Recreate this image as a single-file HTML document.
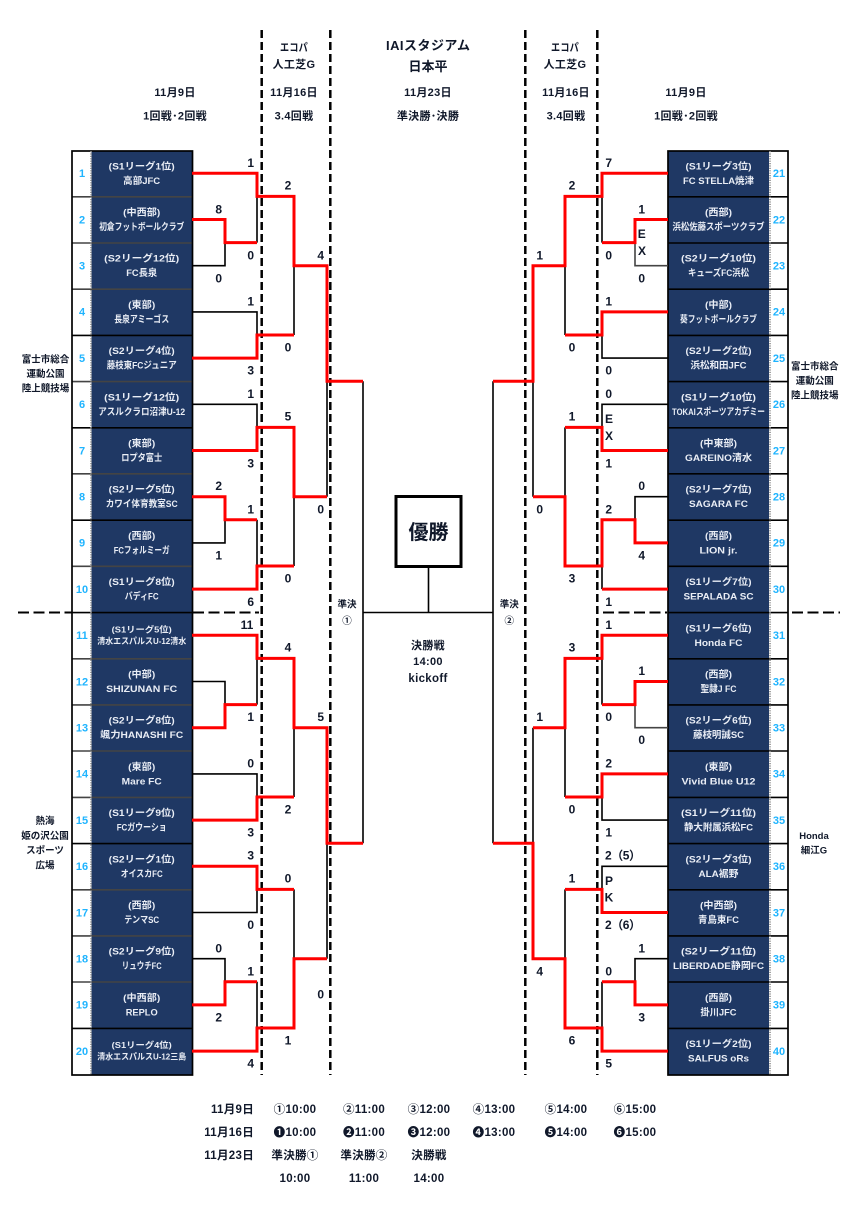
<!DOCTYPE html>
<html lang="ja"><head><meta charset="utf-8"><title>Bracket</title>
<style>
html,body{margin:0;padding:0;background:#fff}
svg{display:block}
text{font-family:"Liberation Sans","Noto Sans CJK JP",sans-serif;font-weight:700;text-anchor:middle;fill:#10182a}
.t text{fill:#e9edf5;font-size:9.5px}
.t2 text{fill:#e9edf5;font-size:8.5px}
.n text{fill:#1fb4ff;font-size:11px}
.s text{font-size:12px}
.h text{font-size:11px;letter-spacing:.3px}
.l text{font-size:9.5px}
.b text{font-size:11.5px;letter-spacing:.3px}
</style></head><body>
<svg xmlns="http://www.w3.org/2000/svg" width="864" height="1209" viewBox="0 0 864 1209">
<rect width="864" height="1209" fill="#fff"/>
<!-- navy -->
<rect x="91.5" y="151" width="101" height="924" fill="#1f3864"/>
<rect x="668" y="151" width="101" height="924" fill="#1f3864"/>
<!-- row lines left -->
<g stroke="#444" stroke-width="1.6" fill="none">
<path d="M72 196.8H192M72 243H192M72 289.2H192M72 381.6H192M72 473.8H192M72 566.3H192M72 658.8H192M72 704.9H192M72 751H192M72 797.4H192M72 889.8H192M72 935.9H192M72 982H192"/>
</g>
<g stroke="#000" stroke-width="1.6" fill="none">
<path d="M72 335.4H192M72 427.8H192M72 520.2H192M72 612.6H192M72 843.6H192M72 1028.4H192"/>
<path d="M668 196.8H788M668 243H788M668 289.2H788M668 335.4H788M668 381.6H788M668 427.8H788M668 473.8H788M668 520.2H788M668 566.3H788M668 612.6H788M668 658.8H788M668 704.9H788M668 751H788M668 797.4H788M668 843.6H788M668 889.8H788M668 935.9H788M668 982H788M668 1028.4H788"/>
</g>
<g stroke="#000" stroke-width="1.7" fill="none">
<rect x="72" y="151" width="120.5" height="924"/>
<rect x="668" y="151" width="120" height="924"/>
</g>
<path d="M91 151V1075M770 151V1075" stroke="#8a8a8a" stroke-width="1.6" stroke-dasharray="1.2 1.2" fill="none"/>
<!-- black connectors -->
<g stroke="#000" stroke-width="1.6" fill="none">
<path d="M257 196.4V242.6M192 265.7H225V242.6M192 311.9H257V335M294 265.7V335M192 404.3H257V427.4M327 381.2V496.7M192 542.9H225V519.8M257 519.8V566M294 496.7V566M192 681.5H225V704.6M257 658.4V704.6M192 773.9H257V797M294 727.7V797M192 912.5H257V889.4M294 889.4V958.7M327 843.2V958.7M192 958.7H225V981.8M257 981.8V1028"/>
<path d="M363 381.2V843.2M363 612.5H493M428.5 566V612.5M493 381.2V843.2"/>
<path d="M602 196.4V242.6M565 265.7V335M602 335V358.1H668M668 404.3H602V427.4M533 381.2V496.7M565 427.4V496.7M668 496.7H635V519.8M602 566V589.1M602 658.4V704.6M533 727.7V843.2M565 727.7V797M602 797V820.1H668M668 866.3H602V889.4M565 889.4V958.7M668 958.7H635V981.8M602 981.8V1028"/>
</g>
<path d="M668 265.7H635V242.6M668 727.7H635V704.6" stroke="#444" stroke-width="1.6" fill="none"/>
<!-- dashed -->
<g stroke="#000" fill="none">
<path d="M261.7 30V1075M330.3 30V1075M525.3 30V1075M597.3 30V1075" stroke-width="2.5" stroke-dasharray="8 4"/>
<path d="M18 612.5H72M193 612.5H259M603 612.5H667M792 612.5H840" stroke-width="2" stroke-dasharray="11 4.5"/>
</g>
<!-- red connectors -->
<g stroke="#f00" stroke-width="3" fill="none" stroke-linejoin="miter">
<path d="M192 173.3H257V196.4H294V265.7H327V381.2H363"/>
<path d="M192 219.5H225V242.6H257"/>
<path d="M192 358.1H257V335H294"/>
<path d="M192 450.5H257V427.4H294V496.7H327"/>
<path d="M192 496.7H225V519.8H257"/>
<path d="M192 589.1H257V566H294"/>
<path d="M192 635.3H257V658.4H294V727.7H327V843.2H363"/>
<path d="M192 727.7H225V704.6H257"/>
<path d="M192 820.1H257V797H294"/>
<path d="M192 866.3H257V889.4H294"/>
<path d="M192 1004.9H225V981.8H257"/>
<path d="M192 1051.1H257V1028H294V958.7H327"/>
<path d="M668 173.3H602V196.4H565V265.7H533V381.2H493"/>
<path d="M668 219.5H635V242.6H602"/>
<path d="M668 311.9H602V335H565"/>
<path d="M668 450.5H602V427.4H565"/>
<path d="M668 542.9H635V519.8H602V566H565V496.7H533"/>
<path d="M668 589.1H602"/>
<path d="M668 635.3H602V658.4H565V727.7H533"/>
<path d="M668 681.5H635V704.6H602"/>
<path d="M668 773.9H602V797H565"/>
<path d="M668 912.5H602V889.4H565"/>
<path d="M668 1004.9H635V981.8H602"/>
<path d="M668 1051.1H602V1028H565V958.7H533V843.2H493"/>
</g>
<!-- winner box -->
<rect x="396" y="496.5" width="65" height="70" fill="#fff" stroke="#000" stroke-width="3"/>
<text x="428.5" y="539" style="font-size:20px">優勝</text>

<!-- number columns -->
<g class="n">
<text x="82" y="177">1</text><text x="82" y="223.3">2</text><text x="82" y="269.5">3</text><text x="82" y="315.7">4</text><text x="82" y="361.9">5</text><text x="82" y="408.1">6</text><text x="82" y="454.3">7</text><text x="82" y="500.5">8</text><text x="82" y="546.7">9</text><text x="82" y="592.9">10</text>
<text x="82" y="639.1">11</text><text x="82" y="685.3">12</text><text x="82" y="731.5">13</text><text x="82" y="777.7">14</text><text x="82" y="823.9">15</text><text x="82" y="870.1">16</text><text x="82" y="916.3">17</text><text x="82" y="962.5">18</text><text x="82" y="1008.7">19</text><text x="82" y="1054.9">20</text>
<text x="779" y="177">21</text><text x="779" y="223.3">22</text><text x="779" y="269.5">23</text><text x="779" y="315.7">24</text><text x="779" y="361.9">25</text><text x="779" y="408.1">26</text><text x="779" y="454.3">27</text><text x="779" y="500.5">28</text><text x="779" y="546.7">29</text><text x="779" y="592.9">30</text>
<text x="779" y="639.1">31</text><text x="779" y="685.3">32</text><text x="779" y="731.5">33</text><text x="779" y="777.7">34</text><text x="779" y="823.9">35</text><text x="779" y="870.1">36</text><text x="779" y="916.3">37</text><text x="779" y="962.5">38</text><text x="779" y="1008.7">39</text><text x="779" y="1054.9">40</text>
</g>

<!-- left teams -->
<g class="t">
<text x="141.7" y="169.3" textLength="66" lengthAdjust="spacingAndGlyphs">(S1リーグ1位)</text><text x="141.7" y="183.8" textLength="37" lengthAdjust="spacingAndGlyphs">高部JFC</text>
<text x="141.7" y="215.5" textLength="37" lengthAdjust="spacingAndGlyphs">(中西部)</text><text x="141.7" y="230" textLength="85" lengthAdjust="spacingAndGlyphs">初倉フットボールクラブ</text>
<text x="141.7" y="261.7" textLength="75" lengthAdjust="spacingAndGlyphs">(S2リーグ12位)</text><text x="141.7" y="276.2" textLength="31" lengthAdjust="spacingAndGlyphs">FC長泉</text>
<text x="141.7" y="307.9" textLength="27" lengthAdjust="spacingAndGlyphs">(東部)</text><text x="141.7" y="322.4" textLength="55" lengthAdjust="spacingAndGlyphs">長泉アミーゴス</text>
<text x="141.7" y="354.1" textLength="66" lengthAdjust="spacingAndGlyphs">(S2リーグ4位)</text><text x="141.7" y="368.6" textLength="70" lengthAdjust="spacingAndGlyphs">藤枝東FCジュニア</text>
<text x="141.7" y="400.3" textLength="75" lengthAdjust="spacingAndGlyphs">(S1リーグ12位)</text><text x="141.7" y="414.8" textLength="87" lengthAdjust="spacingAndGlyphs">アスルクラロ沼津U-12</text>
<text x="141.7" y="446.5" textLength="27" lengthAdjust="spacingAndGlyphs">(東部)</text><text x="141.7" y="461" textLength="41" lengthAdjust="spacingAndGlyphs">ロプタ富士</text>
<text x="141.7" y="492.7" textLength="66" lengthAdjust="spacingAndGlyphs">(S2リーグ5位)</text><text x="141.7" y="507.2" textLength="72" lengthAdjust="spacingAndGlyphs">カワイ体育教室SC</text>
<text x="141.7" y="538.9" textLength="27" lengthAdjust="spacingAndGlyphs">(西部)</text><text x="141.7" y="553.4" textLength="56" lengthAdjust="spacingAndGlyphs">FCフォルミーガ</text>
<text x="141.7" y="585.1" textLength="66" lengthAdjust="spacingAndGlyphs">(S1リーグ8位)</text><text x="141.7" y="599.6" textLength="34" lengthAdjust="spacingAndGlyphs">バディFC</text>
<text x="141.7" y="677.5" textLength="27" lengthAdjust="spacingAndGlyphs">(中部)</text><text x="141.7" y="692" textLength="71" lengthAdjust="spacingAndGlyphs">SHIZUNAN FC</text>
<text x="141.7" y="723.7" textLength="66" lengthAdjust="spacingAndGlyphs">(S2リーグ8位)</text><text x="141.7" y="738.2" textLength="83" lengthAdjust="spacingAndGlyphs">颯力HANASHI FC</text>
<text x="141.7" y="769.9" textLength="27" lengthAdjust="spacingAndGlyphs">(東部)</text><text x="141.7" y="784.4" textLength="40" lengthAdjust="spacingAndGlyphs">Mare FC</text>
<text x="141.7" y="816.1" textLength="66" lengthAdjust="spacingAndGlyphs">(S1リーグ9位)</text><text x="141.7" y="830.6" textLength="50" lengthAdjust="spacingAndGlyphs">FCガウーショ</text>
<text x="141.7" y="862.3" textLength="66" lengthAdjust="spacingAndGlyphs">(S2リーグ1位)</text><text x="141.7" y="876.8" textLength="42" lengthAdjust="spacingAndGlyphs">オイスカFC</text>
<text x="141.7" y="908.5" textLength="27" lengthAdjust="spacingAndGlyphs">(西部)</text><text x="141.7" y="923" textLength="35" lengthAdjust="spacingAndGlyphs">テンマSC</text>
<text x="141.7" y="954.7" textLength="66" lengthAdjust="spacingAndGlyphs">(S2リーグ9位)</text><text x="141.7" y="969.2" textLength="40" lengthAdjust="spacingAndGlyphs">リュウチFC</text>
<text x="141.7" y="1000.9" textLength="37" lengthAdjust="spacingAndGlyphs">(中西部)</text><text x="141.7" y="1015.4" textLength="32" lengthAdjust="spacingAndGlyphs">REPLO</text>
</g>
<g class="t2">
<text x="141.7" y="632.3" textLength="60" lengthAdjust="spacingAndGlyphs">(S1リーグ5位)</text><text x="141.7" y="643.8" textLength="89" lengthAdjust="spacingAndGlyphs">清水エスパルスU-12清水</text>
<text x="141.7" y="1048.1" textLength="60" lengthAdjust="spacingAndGlyphs">(S1リーグ4位)</text><text x="141.7" y="1059.6" textLength="89" lengthAdjust="spacingAndGlyphs">清水エスパルスU-12三島</text>
</g>
<!-- right teams -->
<g class="t">
<text x="718.5" y="169.3" textLength="66" lengthAdjust="spacingAndGlyphs">(S1リーグ3位)</text><text x="718.5" y="183.8" textLength="71" lengthAdjust="spacingAndGlyphs">FC STELLA焼津</text>
<text x="718.5" y="215.5" textLength="27" lengthAdjust="spacingAndGlyphs">(西部)</text><text x="718.5" y="230" textLength="92" lengthAdjust="spacingAndGlyphs">浜松佐藤スポーツクラブ</text>
<text x="718.5" y="261.7" textLength="75" lengthAdjust="spacingAndGlyphs">(S2リーグ10位)</text><text x="718.5" y="276.2" textLength="61" lengthAdjust="spacingAndGlyphs">キューズFC浜松</text>
<text x="718.5" y="307.9" textLength="27" lengthAdjust="spacingAndGlyphs">(中部)</text><text x="718.5" y="322.4" textLength="77" lengthAdjust="spacingAndGlyphs">葵フットボールクラブ</text>
<text x="718.5" y="354.1" textLength="66" lengthAdjust="spacingAndGlyphs">(S2リーグ2位)</text><text x="718.5" y="368.6" textLength="56" lengthAdjust="spacingAndGlyphs">浜松和田JFC</text>
<text x="718.5" y="400.3" textLength="75" lengthAdjust="spacingAndGlyphs">(S1リーグ10位)</text><text x="718.5" y="414.8" textLength="93" lengthAdjust="spacingAndGlyphs">TOKAIスポーツアカデミー</text>
<text x="718.5" y="446.5" textLength="37" lengthAdjust="spacingAndGlyphs">(中東部)</text><text x="718.5" y="461" textLength="67" lengthAdjust="spacingAndGlyphs">GAREINO清水</text>
<text x="718.5" y="492.7" textLength="66" lengthAdjust="spacingAndGlyphs">(S2リーグ7位)</text><text x="718.5" y="507.2" textLength="59" lengthAdjust="spacingAndGlyphs">SAGARA FC</text>
<text x="718.5" y="538.9" textLength="27" lengthAdjust="spacingAndGlyphs">(西部)</text><text x="718.5" y="553.4" textLength="38" lengthAdjust="spacingAndGlyphs">LION jr.</text>
<text x="718.5" y="585.1" textLength="66" lengthAdjust="spacingAndGlyphs">(S1リーグ7位)</text><text x="718.5" y="599.6" textLength="70" lengthAdjust="spacingAndGlyphs">SEPALADA SC</text>
<text x="718.5" y="631.3" textLength="66" lengthAdjust="spacingAndGlyphs">(S1リーグ6位)</text><text x="718.5" y="645.8" textLength="48" lengthAdjust="spacingAndGlyphs">Honda FC</text>
<text x="718.5" y="677.5" textLength="27" lengthAdjust="spacingAndGlyphs">(西部)</text><text x="718.5" y="692" textLength="36" lengthAdjust="spacingAndGlyphs">聖隷J FC</text>
<text x="718.5" y="723.7" textLength="66" lengthAdjust="spacingAndGlyphs">(S2リーグ6位)</text><text x="718.5" y="738.2" textLength="51" lengthAdjust="spacingAndGlyphs">藤枝明誠SC</text>
<text x="718.5" y="769.9" textLength="27" lengthAdjust="spacingAndGlyphs">(東部)</text><text x="718.5" y="784.4" textLength="74" lengthAdjust="spacingAndGlyphs">Vivid Blue U12</text>
<text x="718.5" y="816.1" textLength="75" lengthAdjust="spacingAndGlyphs">(S1リーグ11位)</text><text x="718.5" y="830.6" textLength="69" lengthAdjust="spacingAndGlyphs">静大附属浜松FC</text>
<text x="718.5" y="862.3" textLength="66" lengthAdjust="spacingAndGlyphs">(S2リーグ3位)</text><text x="718.5" y="876.8" textLength="40" lengthAdjust="spacingAndGlyphs">ALA裾野</text>
<text x="718.5" y="908.5" textLength="37" lengthAdjust="spacingAndGlyphs">(中西部)</text><text x="718.5" y="923" textLength="41" lengthAdjust="spacingAndGlyphs">青島東FC</text>
<text x="718.5" y="954.7" textLength="75" lengthAdjust="spacingAndGlyphs">(S2リーグ11位)</text><text x="718.5" y="969.2" textLength="91" lengthAdjust="spacingAndGlyphs">LIBERDADE静岡FC</text>
<text x="718.5" y="1000.9" textLength="27" lengthAdjust="spacingAndGlyphs">(西部)</text><text x="718.5" y="1015.4" textLength="36" lengthAdjust="spacingAndGlyphs">掛川JFC</text>
<text x="718.5" y="1047.1" textLength="66" lengthAdjust="spacingAndGlyphs">(S1リーグ2位)</text><text x="718.5" y="1061.6" textLength="61" lengthAdjust="spacingAndGlyphs">SALFUS oRs</text>
</g>

<!-- scores left -->
<g class="s">
<text x="250.7" y="167">1</text><text x="288" y="189.7">2</text><text x="218.7" y="213.3">8</text><text x="250.7" y="259.3">0</text><text x="218.7" y="282.3">0</text><text x="320.7" y="259.3">4</text><text x="250.7" y="305.7">1</text><text x="288" y="351.7">0</text><text x="250.7" y="374.7">3</text><text x="250.7" y="398">1</text><text x="288" y="420.7">5</text><text x="250.7" y="467.3">3</text><text x="218.7" y="490">2</text><text x="250.7" y="513.3">1</text><text x="320.7" y="513.3">0</text><text x="218.7" y="559.7">1</text><text x="288" y="582.3">0</text><text x="250.7" y="606">6</text>
<text x="247" y="629">11</text><text x="288" y="651.7">4</text><text x="250.7" y="721">1</text><text x="320.7" y="721">5</text><text x="250.7" y="767.3">0</text><text x="288" y="813.3">2</text><text x="250.7" y="836.7">3</text><text x="250.7" y="859.7">3</text><text x="288" y="882.7">0</text><text x="250.7" y="929">0</text><text x="218.7" y="952.3">0</text><text x="250.7" y="975.3">1</text><text x="218.7" y="1021.3">2</text><text x="320.7" y="998.3">0</text><text x="288" y="1044.7">1</text><text x="250.7" y="1067.7">4</text>
</g>
<!-- scores right -->
<g class="s">
<text x="608.7" y="167">7</text><text x="572" y="189.7">2</text><text x="641.7" y="213.3">1</text><text x="641.7" y="238">E</text><text x="642" y="255">X</text><text x="608.7" y="259.3">0</text><text x="641.7" y="282.3">0</text><text x="539.7" y="259.3">1</text><text x="608.7" y="305.7">1</text><text x="572" y="351.7">0</text><text x="608.7" y="374.7">0</text><text x="608.7" y="398">0</text><text x="572" y="420.7">1</text><text x="609" y="423">E</text><text x="609" y="440">X</text><text x="608.7" y="467.3">1</text><text x="641.7" y="490">0</text><text x="608.7" y="513.3">2</text><text x="539.7" y="513.3">0</text><text x="641.7" y="559.7">4</text><text x="572" y="582.3">3</text><text x="608.7" y="606">1</text>
<text x="608.7" y="629">1</text><text x="572" y="651.7">3</text><text x="641.7" y="675">1</text><text x="539.7" y="721">1</text><text x="608.7" y="721">0</text><text x="641.7" y="744">0</text><text x="608.7" y="767.3">2</text><text x="572" y="813.3">0</text><text x="608.7" y="836.7">1</text>
<text x="605" y="859.7" style="text-anchor:start" textLength="36">2（5）</text><text x="572" y="882.7">1</text><text x="609" y="885">P</text><text x="609" y="901.7">K</text>
<text x="605" y="929" style="text-anchor:start" textLength="36">2（6）</text><text x="641.7" y="952.3">1</text><text x="608.7" y="975.3">0</text><text x="539.7" y="975.3">4</text><text x="641.7" y="1021.3">3</text><text x="572" y="1044.7">6</text><text x="608.7" y="1067.7">5</text>
</g>

<!-- headers -->
<g class="h">
<text x="175" y="96">11月9日</text><text x="175" y="119.7">1回戦･2回戦</text>
<text x="294" y="51" textLength="28" lengthAdjust="spacingAndGlyphs">エコパ</text><text x="294" y="68">人工芝G</text><text x="294" y="96">11月16日</text><text x="294" y="119.7">3.4回戦</text>
<text x="428" y="96">11月23日</text><text x="428" y="119.7">準決勝･決勝</text>
<text x="565" y="51" textLength="28" lengthAdjust="spacingAndGlyphs">エコパ</text><text x="565" y="68">人工芝G</text><text x="566" y="96">11月16日</text><text x="566" y="119.7">3.4回戦</text>
<text x="686" y="96">11月9日</text><text x="686" y="119.7">1回戦･2回戦</text>
</g>
<text x="428" y="50" style="font-size:13px" textLength="84">IAIスタジアム</text>
<text x="428" y="71" style="font-size:13px">日本平</text>

<!-- side labels -->
<g class="l">
<text x="45.5" y="362.5">富士市総合</text><text x="45.5" y="377">運動公園</text><text x="45.5" y="391.5">陸上競技場</text>
<text x="814.7" y="369.5">富士市総合</text><text x="814.7" y="384.2">運動公園</text><text x="814.7" y="398.5">陸上競技場</text>
<text x="45" y="824.2">熱海</text><text x="45" y="838.8">姫の沢公園</text><text x="45" y="853.5">スポーツ</text><text x="45" y="868.5">広場</text>
<text x="814" y="838.8">Honda</text><text x="814" y="853.5">細江G</text>
<text x="347" y="607.5">準決</text><text x="347" y="624">①</text>
<text x="509.3" y="607.5">準決</text><text x="509.3" y="624">②</text>
</g>
<g class="h">
<text x="428" y="649">決勝戦</text><text x="428" y="665">14:00</text><text x="428" y="682" style="font-size:11.5px">kickoff</text>
</g>

<!-- schedule -->
<g class="b">
<text x="254" y="1113" style="text-anchor:end">11月9日</text><text x="295" y="1113">①10:00</text><text x="364" y="1113">②11:00</text><text x="429" y="1113">③12:00</text><text x="494" y="1113">④13:00</text><text x="566" y="1113">⑤14:00</text><text x="635" y="1113">⑥15:00</text>
<text x="254" y="1136" style="text-anchor:end">11月16日</text><text x="295" y="1136">❶10:00</text><text x="364" y="1136">❷11:00</text><text x="429" y="1136">❸12:00</text><text x="494" y="1136">❹13:00</text><text x="566" y="1136">❺14:00</text><text x="635" y="1136">❻15:00</text>
<text x="254" y="1159" style="text-anchor:end">11月23日</text><text x="295" y="1159">準決勝①</text><text x="364" y="1159">準決勝②</text><text x="429" y="1159">決勝戦</text>
<text x="295" y="1182">10:00</text><text x="364" y="1182">11:00</text><text x="429" y="1182">14:00</text>
</g>
</svg>
</body></html>
